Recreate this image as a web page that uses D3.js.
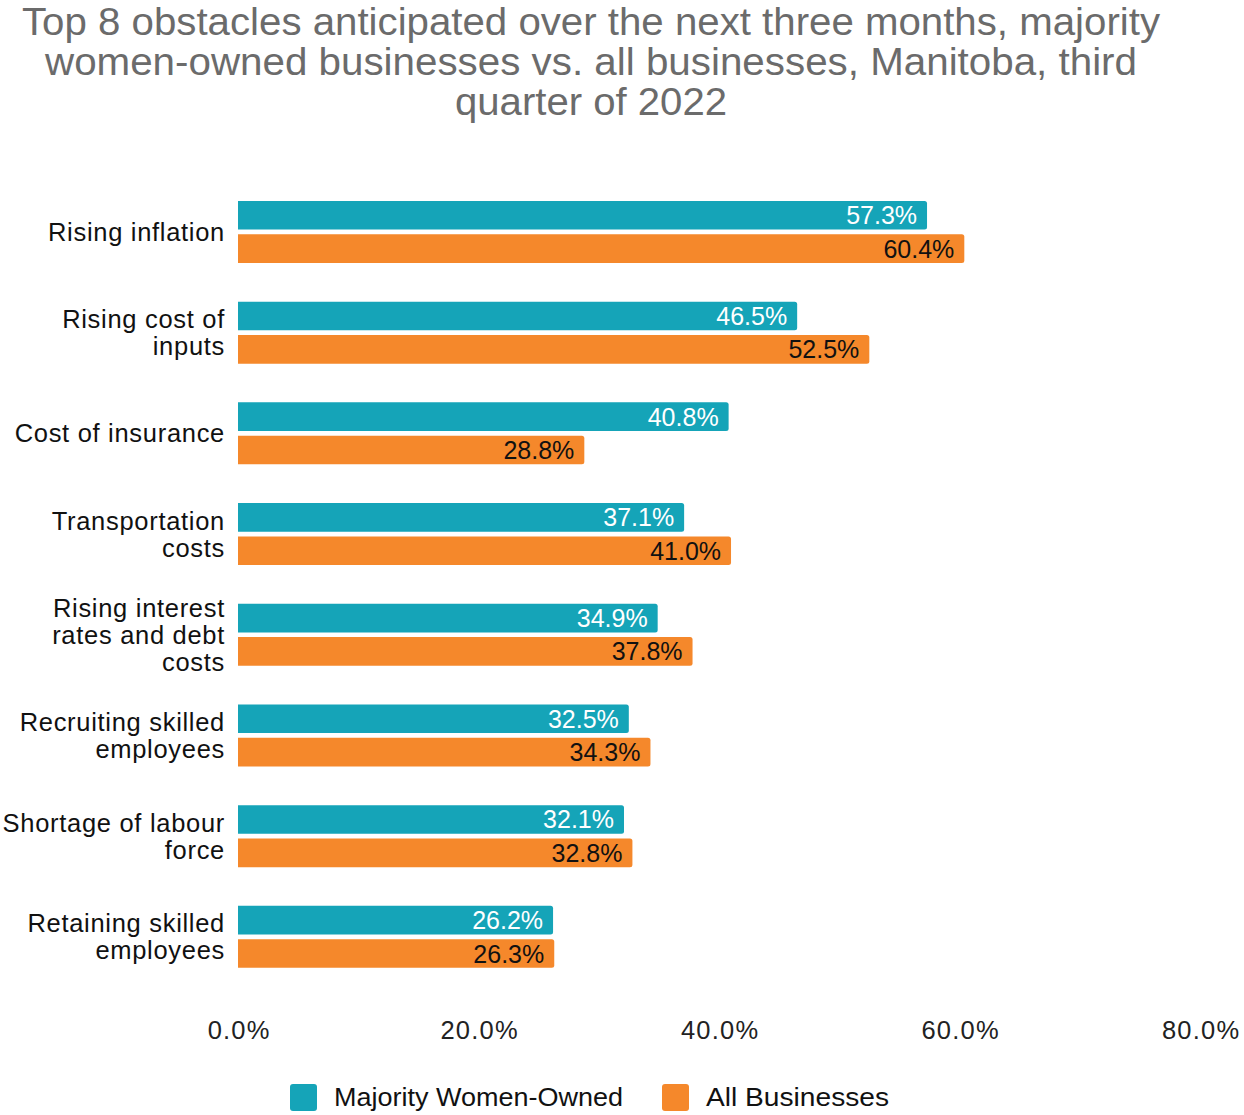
<!DOCTYPE html>
<html>
<head>
<meta charset="utf-8">
<script src="https://cdn.jsdelivr.net/npm/d3@7"></script>
<style>
  html, body { margin: 0; padding: 0; background: #fff; }
  svg { display: block; font-family: "Liberation Sans", Arial, sans-serif; }
</style>
</head>
<body>
<svg id="chart" width="1244" height="1115"></svg>
<script>
// Obstacles anticipated over the next three months (percent of businesses)
const categories = [
  "Rising inflation",
  "Rising cost of inputs",
  "Cost of insurance",
  "Transportation costs",
  "Rising interest rates and debt costs",
  "Recruiting skilled employees",
  "Shortage of labour force",
  "Retaining skilled employees"
];
const categoryLines = [
  ["Rising inflation"],
  ["Rising cost of", "inputs"],
  ["Cost of insurance"],
  ["Transportation", "costs"],
  ["Rising interest", "rates and debt", "costs"],
  ["Recruiting skilled", "employees"],
  ["Shortage of labour", "force"],
  ["Retaining skilled", "employees"]
];
const seriesNames = ["Majority Women-Owned", "All Businesses"];
const womenOwned = [57.3, 46.5, 40.8, 37.1, 34.9, 32.5, 32.1, 26.2];
const allBusinesses = [60.4, 52.5, 28.8, 41.0, 37.8, 34.3, 32.8, 26.3];
const tickValues = [0, 20, 40, 60, 80];
const titleLines = [
  "Top 8 obstacles anticipated over the next three months, majority",
  "women-owned businesses vs. all businesses, Manitoba, third",
  "quarter of 2022"
];
const colors = ["#15a4b8", "#f5882b"];
const labelColors = ["#ffffff", "#111111"];

const svg = d3.select("#chart");

// Title
const title = svg.append("g").attr("fill", "#6b6b6b").attr("font-size", 38);
const titleSpans = [[22, 1160], [45, 1137], [455, 727]];
titleLines.forEach((t, i) => {
  title.append("text")
    .attr("x", titleSpans[i][0])
    .attr("y", 35 + i * 40)
    .attr("textLength", titleSpans[i][1] - titleSpans[i][0])
    .attr("lengthAdjust", "spacingAndGlyphs")
    .text(t);
});

// Scales
const x = d3.scaleLinear().domain([0, 80]).range([238, 1200]);
const y = d3.scaleBand().domain(categories).range([181.6, 987.2]).paddingInner(0.384).paddingOuter(0.192);
const ySub = d3.scaleBand().domain(seriesNames).range([0, y.bandwidth()]).paddingInner(0.14);

const rows = categories.map((c, i) => ({
  cat: c,
  lines: categoryLines[i],
  values: [womenOwned[i], allBusinesses[i]]
}));

// Bars with slightly rounded right ends
function barPath(x0, x1, y0, h, r) {
  return `M${x0},${y0}H${x1 - r}Q${x1},${y0} ${x1},${y0 + r}V${y0 + h - r}Q${x1},${y0 + h} ${x1 - r},${y0 + h}H${x0}Z`;
}

const groups = svg.append("g").selectAll("g").data(rows).join("g")
  .attr("transform", d => `translate(0,${y(d.cat)})`);

groups.each(function(d) {
  const g = d3.select(this);
  seriesNames.forEach((s, k) => {
    const v = d.values[k];
    g.append("path")
      .attr("d", barPath(x(0), x(v), ySub(s), ySub.bandwidth(), 2.5))
      .attr("fill", colors[k]);
    g.append("text")
      .attr("x", x(v) - 10)
      .attr("y", ySub(s) + ySub.bandwidth() / 2 + 9)
      .attr("text-anchor", "end")
      .attr("font-size", 25)
      .attr("fill", labelColors[k])
      .text(v.toFixed(1) + "%");
  });
  // Category label, wrapped and centred on the group
  const n = d.lines.length;
  const lh = 27;
  const cy = y.bandwidth() / 2;
  const t = g.append("text")
    .attr("text-anchor", "end")
    .attr("font-size", 25.5)
    .attr("fill", "#111")
    .attr("letter-spacing", 0.7);
  d.lines.forEach((ln, j) => {
    t.append("tspan")
      .attr("x", 225)
      .attr("y", cy + (j - (n - 1) / 2) * lh + 9)
      .text(ln);
  });
});

// X axis tick labels
const axis = svg.append("g").attr("transform", "translate(0,1039)")
  .call(d3.axisBottom(x).tickValues(tickValues).tickFormat(d => d.toFixed(1) + "%").tickSize(0).tickPadding(0));
axis.select(".domain").remove();
axis.selectAll("text")
  .attr("dy", 0)
  .attr("y", 0)
  .attr("dx", 0.6)
  .attr("font-family", "Liberation Sans, Arial, sans-serif")
  .attr("font-size", 25.5)
  .attr("letter-spacing", 1.2)
  .attr("fill", "#222");

// Legend
const legendX = [290, 662];
const legendTextLen = [289, 183];
const legend = svg.append("g");
seriesNames.forEach((s, k) => {
  legend.append("rect")
    .attr("x", legendX[k]).attr("y", 1084)
    .attr("width", 27).attr("height", 27)
    .attr("rx", 3)
    .attr("fill", colors[k]);
  legend.append("text")
    .attr("x", legendX[k] + 44)
    .attr("y", 1106)
    .attr("font-size", 26)
    .attr("fill", "#111")
    .attr("textLength", legendTextLen[k])
    .attr("lengthAdjust", "spacingAndGlyphs")
    .text(s);
});
</script>
</body>
</html>
